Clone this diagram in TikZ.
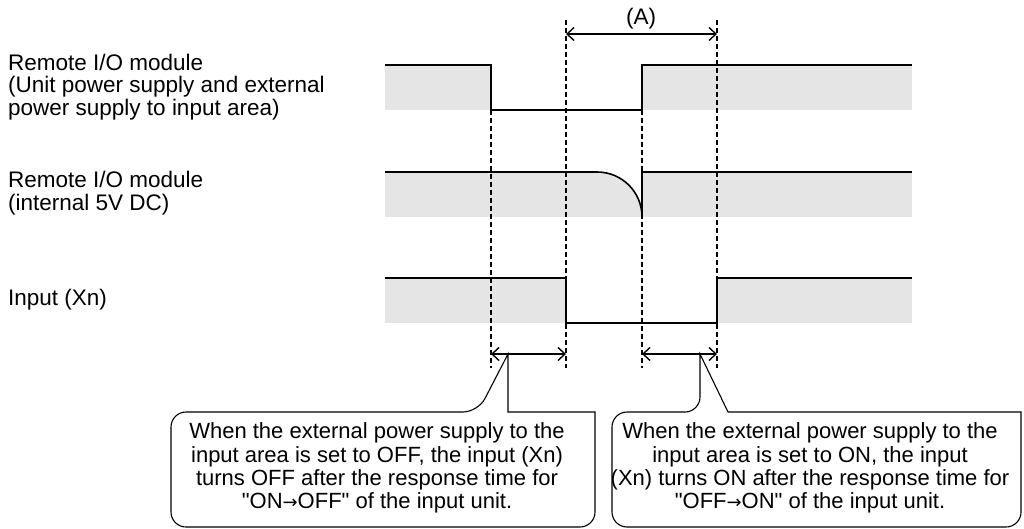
\documentclass[tikz,border=0pt]{standalone}
\usepackage{fontspec}
\setmainfont{Liberation Sans}
\newfontfamily\arrowfont{DejaVu Sans}
\usetikzlibrary{arrows.meta}

\begin{document}
\begin{tikzpicture}[
    x=1pt, y=-1pt,
    label/.style={anchor=west, align=left, inner sep=0pt, font=\fontsize{22.5}{22.5}\selectfont},
    notetext/.style={align=center, inner sep=0pt, font=\fontsize{22}{23.2}\selectfont},
    area/.style={fill=black!10},
    signal/.style={line width=1.6pt},
    guide/.style={line width=1.5pt, dash pattern=on 5pt off 3pt},
    span/.style={line width=1.4pt, <->, >={Straight Barb[length=7pt,width=13pt]}},
    callout/.style={line width=1.1pt}
]
  \useasboundingbox (0,0) rectangle (1024,529);

  % Nodes
  \node (lab1) [label] at (8,87) {Remote I/O module\\(Unit power supply and external\\power supply to input area)};
  \node (lab2) [label] at (8,193) {Remote I/O module\\(internal 5V DC)};
  \node (lab3) [label] at (8,300) {Input (Xn)};
  \node (tA) [notetext, font=\fontsize{22.5}{22.5}\selectfont] at (641,19) {(A)};

  \node (note1) [notetext] at (377,468) {When the external power supply to the\\input area is set to OFF, the input (Xn)\\turns OFF after the response time for\\\textquotedbl ON{\arrowfont\fontsize{18}{18}\selectfont →}OFF\textquotedbl{} of the input unit.};
  \node (note2) [notetext] at (810,468) {When the external power supply to the\\input area is set to ON, the input\\(Xn) turns ON after the response time for\\\textquotedbl OFF{\arrowfont\fontsize{18}{18}\selectfont →}ON\textquotedbl{} of the input unit.};

  % Grey areas
  \fill [area] (385,65) rectangle (491,110);
  \fill [area] (642,65) rectangle (912,110);
  \fill [area] (385,172) -- (597,172) .. controls (622,172) and (642,192) .. (642,217) -- (385,217) -- cycle;
  \fill [area] (642,172) rectangle (912,217);
  \fill [area] (385,278) rectangle (566,323);
  \fill [area] (717,278) rectangle (912,323);

  % Guide lines
  \coordinate (g1) at (491,110);  \coordinate (h1) at (491,368);
  \coordinate (g2) at (566,20);   \coordinate (h2) at (566,368);
  \coordinate (g3) at (642,110);  \coordinate (h3) at (642,368);
  \coordinate (g4) at (717,20);   \coordinate (h4) at (717,368);
  \draw [guide] (g1) -- (h1);
  \draw [guide] (g2) -- (h2);
  \draw [guide] (g3) -- (h3);
  \draw [guide] (g4) -- (h4);

  % Signals
  \draw [signal] (385,65) -- (491,65) -- (491,110) -- (642,110) -- (642,65) -- (912,65);
  \draw [signal] (385,172) -- (597,172) .. controls (622,172) and (642,192) .. (642,217);
  \draw [signal] (642,217) -- (642,172) -- (912,172);
  \draw [signal] (385,278) -- (566,278) -- (566,323) -- (717,323) -- (717,278) -- (912,278);

  % Arrows
  \coordinate (a1) at (566,34);  \coordinate (a2) at (717,34);
  \coordinate (b1) at (491,354); \coordinate (b2) at (566,354);
  \coordinate (c1) at (642,354); \coordinate (c2) at (717,354);
  \draw [span] (a1) -- (a2);
  \draw [span] (b1) -- (b2);
  \draw [span] (c1) -- (c2);

  % Callouts
  \coordinate (tip1) at (508,354);
  \coordinate (tip2) at (700,354);
  \draw [callout] (171,470) [rounded corners=15pt] -- (171,412) -- (478,412) [sharp corners] -- (tip1) -- (508,412) -- (595,412) [rounded corners=15pt] -- (595,527) -- (171,527) -- cycle;
  \draw [callout] (612,470) [rounded corners=15pt] -- (612,412) -- (700,412) [sharp corners] -- (tip2) -- (728,412) -- (1021,412) [rounded corners=15pt] -- (1021,527) -- (612,527) -- cycle;
\end{tikzpicture}
\end{document}
